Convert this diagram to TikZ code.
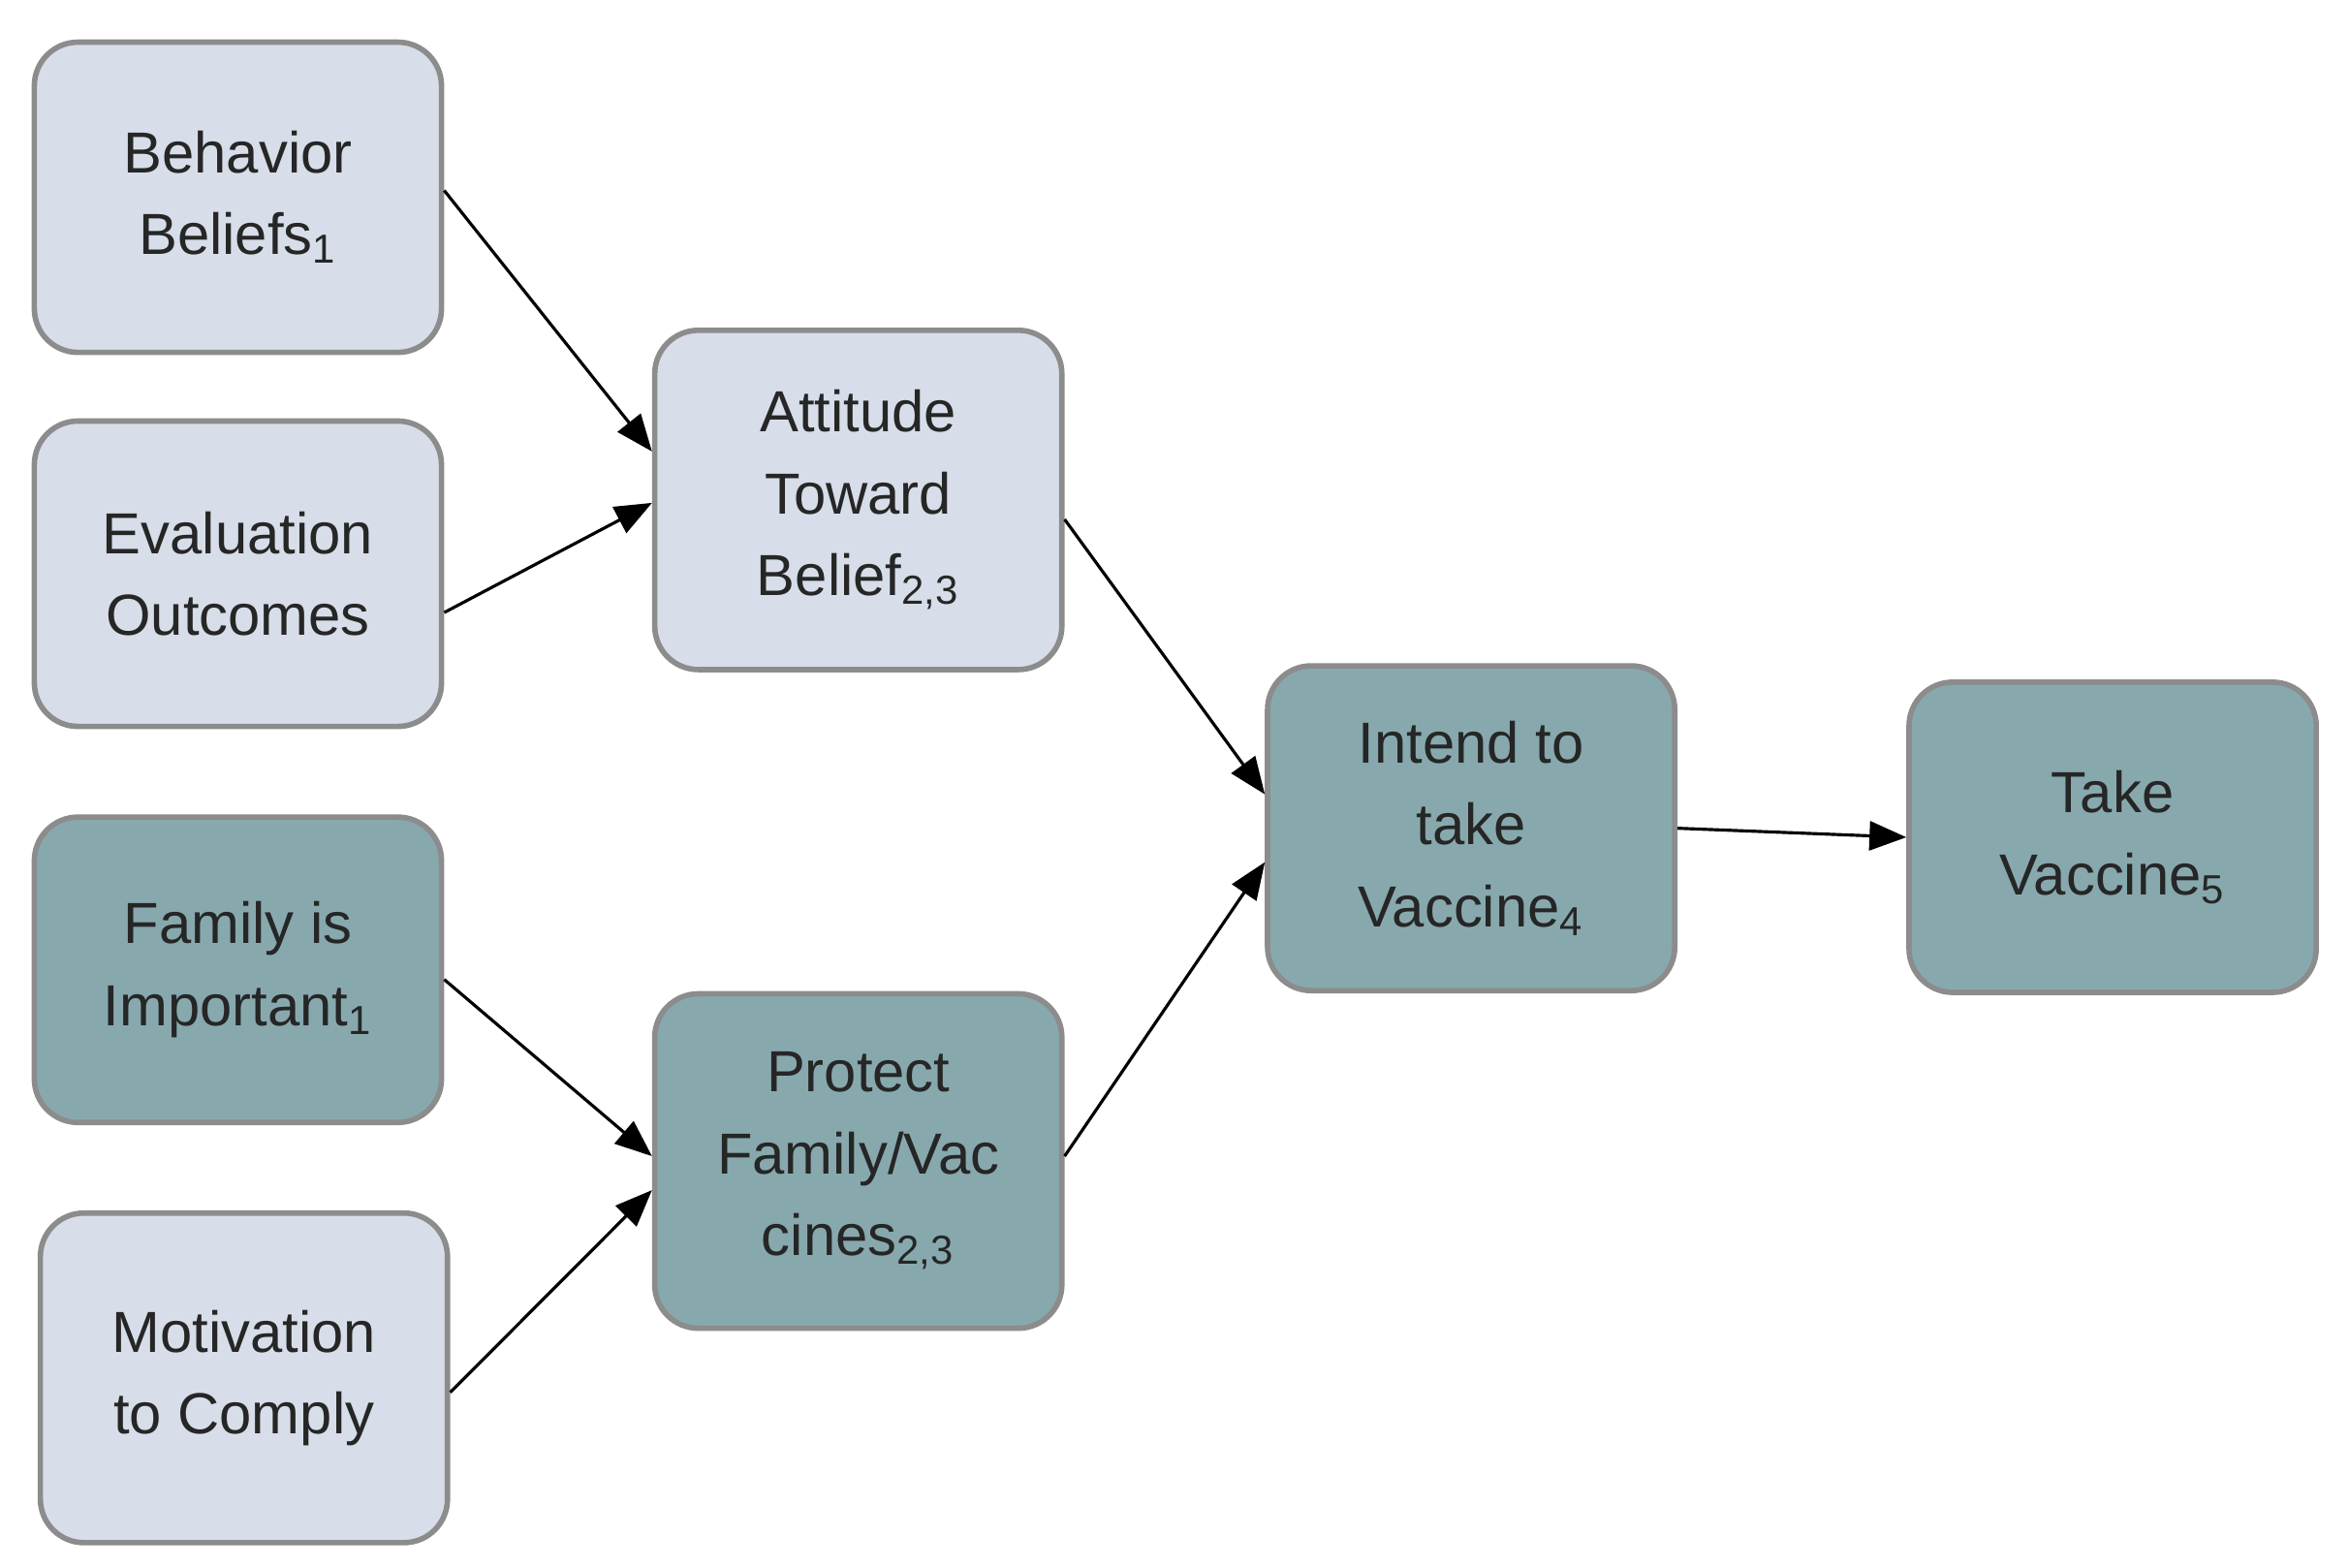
\documentclass[tikz,border=0pt]{standalone}
\usepackage{fontspec}
\setmainfont{Liberation Sans}
\usetikzlibrary{arrows.meta}
\definecolor{lightb}{HTML}{D7DEE9}
\definecolor{darkb}{HTML}{87A9AE}
\definecolor{bord}{HTML}{8C8C8C}
\begin{document}
\begin{tikzpicture}[x=0.01554cm,y=-0.01554cm,
 box/.style={draw=bord,line width=1.6pt,rounded corners=0.45cm,minimum width=4.2cm,minimum height=3.2cm,align=center,font=\fontsize{17}{24}\selectfont,text=black!85},
 lb/.style={box,fill=lightb}, db/.style={box,fill=darkb},
 ar/.style={-{Triangle[length=0.38cm,width=0.3cm]},line width=0.9pt}]
\useasboundingbox (0,0) rectangle (1560,1041);
\node[lb,minimum height=3.2cm] (bb) at (158,131) {Behavior\\Beliefs\textsubscript{1}};
\node[lb,minimum height=3.15cm] (eo) at (158,381) {Evaluation\\Outcomes};
\node[db,minimum height=3.15cm] (fi) at (158,644) {Family is\\Important\textsubscript{1}};
\node[lb,minimum height=3.4cm] (mc) at (162,915) {Motivation\\to Comply};
\node[lb,minimum height=3.5cm] (atb) at (570,332) {Attitude\\Toward\\Belief\textsubscript{2,3}};
\node[db,minimum height=3.45cm] (pfv) at (570,771) {Protect\\Family/Vac\\cines\textsubscript{2,3}};
\node[db,minimum height=3.35cm] (itv) at (977,550) {Intend to\\take\\Vaccine\textsubscript{4}};
\node[db,minimum height=3.2cm] (tv) at (1403,556) {Take\\Vaccine\textsubscript{5}};
\draw[ar] ([yshift=0.07cm]bb.east) -- ([yshift=0.5cm]atb.west);
\draw[ar] ([yshift=-0.4cm]eo.east) -- ([yshift=-0.03cm]atb.west);
\draw[ar] ([yshift=-0.2cm]atb.east) -- ([yshift=0.35cm]itv.west);
\draw[ar] ([yshift=0.05cm]pfv.east) -- ([yshift=-0.35cm]itv.west);
\draw[ar] ([yshift=-0.1cm]fi.east) -- ([yshift=0.05cm]pfv.west);
\draw[ar] ([yshift=-0.15cm]mc.east) -- ([yshift=-0.3cm]pfv.west);
\draw[ar] (itv.east) -- (tv.west);
\end{tikzpicture}
\end{document}
